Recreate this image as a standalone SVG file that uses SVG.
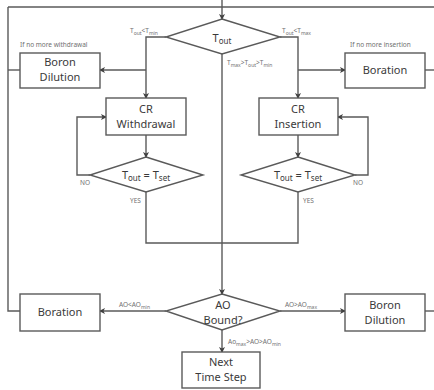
<svg xmlns="http://www.w3.org/2000/svg" width="434" height="390" viewBox="0 0 434 390">
<defs>
<marker id="arr" markerWidth="6" markerHeight="6" refX="5" refY="3" orient="auto" markerUnits="userSpaceOnUse">
<path d="M0,0 L6,3 L0,6 L1.5,3 Z" fill="#404040"/>
</marker>
<style>
.n{fill:#fff;stroke:#5a5a5a;stroke-width:1.4}
.c{fill:none;stroke:#5a5a5a;stroke-width:1.4}
.t{font-family:"Noto Sans","Open Sans",sans-serif;font-size:11px;fill:#3a3a3a;text-anchor:middle}
.l{font-family:"Noto Sans","Open Sans",sans-serif;font-size:6.5px;fill:#707070}
.s{font-size:5px}
</style>
</defs>
<rect width="434" height="390" fill="#fff"/>
<g id="connectors">
<path class="c" d="M8,7 H434"/>
<path class="c" d="M8,7 V311 H20"/>
<path class="c" d="M8,70 H20"/>
<path class="c" d="M425,70 H434"/>
<path class="c" d="M425,311 H434"/>
<path class="c" d="M222,0 V19" marker-end="url(#arr)"/>
<path class="c" d="M166,37 H146 V98" marker-end="url(#arr)"/>
<path class="c" d="M146,70 H100" marker-end="url(#arr)"/>
<path class="c" d="M280,37 H298 V98" marker-end="url(#arr)"/>
<path class="c" d="M298,70 H345" marker-end="url(#arr)"/>
<path class="c" d="M146,135 V157" marker-end="url(#arr)"/>
<path class="c" d="M298,135 V157" marker-end="url(#arr)"/>
<path class="c" d="M90,175 H77 V117 H106" marker-end="url(#arr)"/>
<path class="c" d="M355,175 H368 V117 H338" marker-end="url(#arr)"/>
<path class="c" d="M146,192 V243 H298 V192"/>
<path class="c" d="M222,54 V294" marker-end="url(#arr)"/>
<path class="c" d="M166,311 H100" marker-end="url(#arr)"/>
<path class="c" d="M280,311 H345" marker-end="url(#arr)"/>
<path class="c" d="M222,330 V352" marker-end="url(#arr)"/>
</g>
<g id="labels">
<text class="l" x="130" y="33">T<tspan class="s" dy="1.5">out</tspan><tspan dy="-1.5">&lt;T</tspan><tspan class="s" dy="1.5">min</tspan></text>
<text class="l" x="282" y="33">T<tspan class="s" dy="1.5">out</tspan><tspan dy="-1.5">&lt;T</tspan><tspan class="s" dy="1.5">max</tspan></text>
<text class="l" x="227" y="65">T<tspan class="s" dy="1.5">max</tspan><tspan dy="-1.5">&gt;T</tspan><tspan class="s" dy="1.5">out</tspan><tspan dy="-1.5">&gt;T</tspan><tspan class="s" dy="1.5">min</tspan></text>
<text class="l" x="20" y="47">If no more withdrawal</text>
<text class="l" x="350" y="47">If no more insertion</text>
<text class="l" x="80" y="185">NO</text>
<text class="l" x="353" y="185">NO</text>
<text class="l" x="130" y="203">YES</text>
<text class="l" x="303" y="203">YES</text>
<text class="l" x="119" y="307">AO&lt;AO<tspan class="s" dy="1.5">min</tspan></text>
<text class="l" x="285" y="307">AO&gt;AO<tspan class="s" dy="1.5">max</tspan></text>
<text class="l" x="228" y="344">Ao<tspan class="s" dy="1.5">max</tspan><tspan dy="-1.5">&gt;AO&gt;AO</tspan><tspan class="s" dy="1.5">min</tspan></text>
</g>
<g id="tout">
<polygon class="n" points="222,19 280,37 222,54 166,37"/>
<text class="t" x="222" y="42" font-size="12">T<tspan font-size="8" dy="2">out</tspan></text>
</g>
<g id="boron-dilution-top">
<rect class="n" x="20" y="53" width="80" height="35"/>
<text class="t" x="60" y="66">Boron</text>
<text class="t" x="60" y="81">Dilution</text>
</g>
<g id="boration-top">
<rect class="n" x="345" y="53" width="80" height="35"/>
<text class="t" x="385" y="74">Boration</text>
</g>
<g id="cr-withdrawal">
<rect class="n" x="106" y="98" width="80" height="37"/>
<text class="t" x="146" y="113">CR</text>
<text class="t" x="146" y="128">Withdrawal</text>
</g>
<g id="cr-insertion">
<rect class="n" x="259" y="98" width="79" height="37"/>
<text class="t" x="298" y="113">CR</text>
<text class="t" x="298" y="128">Insertion</text>
</g>
<g id="tset-left">
<polygon class="n" points="146,157 203,175 146,192 90,175"/>
<text class="t" x="146" y="179" font-size="12">T<tspan font-size="8" dy="2">out</tspan><tspan dy="-2"> = T</tspan><tspan font-size="8" dy="2">set</tspan></text>
</g>
<g id="tset-right">
<polygon class="n" points="298,157 355,175 298,192 241,175"/>
<text class="t" x="298" y="179" font-size="12">T<tspan font-size="8" dy="2">out</tspan><tspan dy="-2"> = T</tspan><tspan font-size="8" dy="2">set</tspan></text>
</g>
<g id="ao-bound">
<polygon class="n" points="222,294 280,311 222,330 166,311"/>
<text class="t" x="223" y="309">AO</text>
<text class="t" x="223" y="324">Bound?</text>
</g>
<g id="boration-bottom">
<rect class="n" x="20" y="294" width="80" height="37"/>
<text class="t" x="60" y="316">Boration</text>
</g>
<g id="boron-dilution-bottom">
<rect class="n" x="345" y="294" width="80" height="37"/>
<text class="t" x="385" y="309">Boron</text>
<text class="t" x="385" y="324">Dilution</text>
</g>
<g id="next-time-step">
<rect class="n" x="182" y="352" width="78" height="36"/>
<text class="t" x="221" y="366">Next</text>
<text class="t" x="221" y="381">Time Step</text>
</g>
</svg>
